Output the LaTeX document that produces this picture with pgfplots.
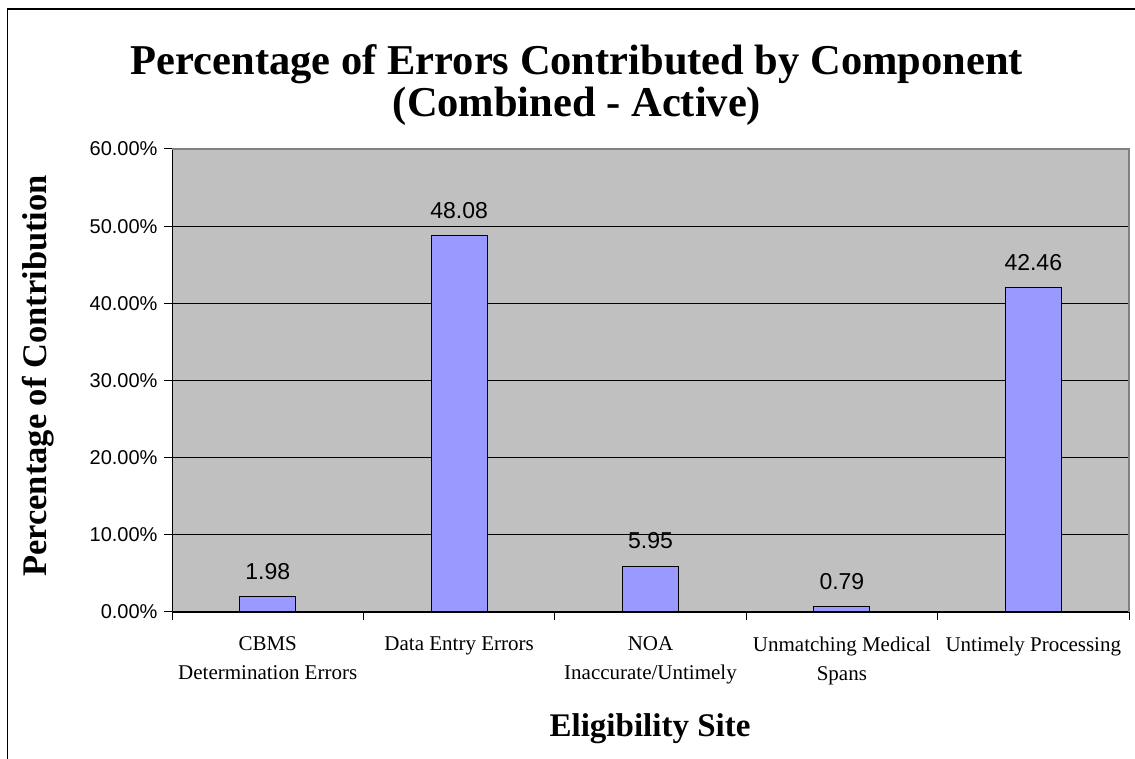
\documentclass[border=0pt]{standalone}
\usepackage{fontspec}
\setmainfont{Liberation Serif}
\newfontfamily\arial{Liberation Sans}
\usepackage{pgfplots}
\usepackage{pgfplotstable}
\pgfplotsset{compat=1.18}
\definecolor{bgGray}{HTML}{C0C0C0}
\definecolor{barBlue}{HTML}{9999FF}
\definecolor{bordGray}{HTML}{808080}
\pgfplotstableread{
x y lab
0 1.98 1.98
1 48.83 48.08
2 5.96 5.95
3 0.72 0.79
4 42.10 42.46
}\datatab
\begin{document}
\begin{tikzpicture}[x=1pt,y=1pt]
\path[use as bounding box] (0,0) rectangle (1135,759);
\fill[white] (0,0) rectangle (1135,759);
\draw[black, line width=1.2pt] (7.5,-10) -- (7.5,750) -- (1145,750);
\begin{axis}[
  at={(172pt,147pt)}, anchor=south west, scale only axis,
  width=957pt, height=463pt,
  ymin=0, ymax=60, xmin=-0.5, xmax=4.5,
  axis background/.style={fill=bgGray},
  axis x line*=bottom, axis y line*=left,
  axis line style={black, line width=1pt},
  /pgf/number format/assume math mode=true,
  ytick={0,10,...,60},
  yticklabel={\pgfmathprintnumber[fixed,fixed zerofill,precision=2]{\tick}\%},
  yticklabel style={font=\arial\fontsize{20}{20}\selectfont, xshift=-3pt},
  ymajorgrids, grid style={black, line width=0.9pt},
  tick align=outside, major tick length=8pt,
  tick style={black, line width=1pt},
  xtick={-0.5,0.5,...,4.5}, xticklabels={},
  extra x ticks={0,1,2,3,4},
  extra x tick labels={CBMS\\Determination Errors, Data Entry Errors, NOA\\Inaccurate/Untimely, Unmatching Medical\\Spans, Untimely Processing},
  extra x tick style={major tick length=0pt, xticklabel style={font=\fontsize{21}{29}\selectfont, align=center, anchor=north, yshift=-21pt}},
  clip=false,
]
\addplot[ybar, bar width=56pt, fill=barBlue, draw=black, line width=1pt,
  point meta=explicit symbolic, nodes near coords,
  every node near coord/.append style={font=\arial\fontsize{23}{23}\selectfont, anchor=center, yshift=25pt, text=black}]
  table[x=x, y=y, meta=lab] {\datatab};
\draw[bordGray, line width=1.2pt] (rel axis cs:0,1) -- (rel axis cs:1,1) -- (rel axis cs:1,0);
\end{axis}
\node[anchor=base, font=\bfseries\fontsize{42.5}{42.5}\selectfont] at (577,684) {Percentage of Errors Contributed by Component};
\node[anchor=base, font=\bfseries\fontsize{42.5}{42.5}\selectfont] at (577,642) {(Combined - Active)};
\node[rotate=90, font=\bfseries\fontsize{34.5}{34.5}\selectfont] at (38,383) {Percentage of Contribution};
\node[anchor=base, font=\bfseries\fontsize{33}{33}\selectfont] at (650,22) {Eligibility Site};
\end{tikzpicture}
\end{document}
